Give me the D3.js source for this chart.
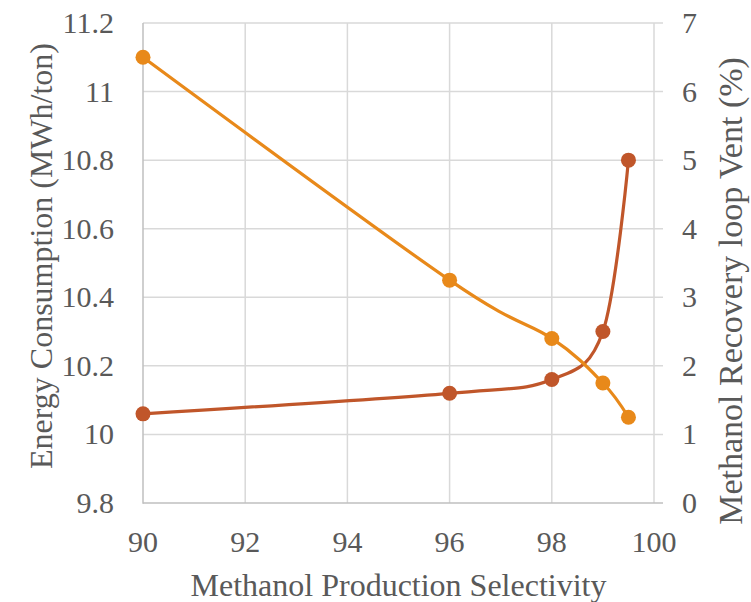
<!DOCTYPE html>
<html>
<head>
<meta charset="utf-8">
<script src="https://cdn.jsdelivr.net/npm/d3@7"></script>
<style>
  html, body { margin: 0; padding: 0; background: #fff; }
  svg { display: block; }
</style>
</head>
<body>
<svg id="chart" width="751" height="602" font-family="Liberation Serif"></svg>
<script>
// Methanol production selectivity (%)
const selectivity = [90, 96, 98, 99, 99.5];
// Energy consumption (MWh/ton), left axis
const energy = [11.1, 10.45, 10.28, 10.15, 10.05];
// Methanol recovery loop vent (%), right axis
const vent = [1.3, 1.6, 1.8, 2.5, 5.0];

const xTicks = [90, 92, 94, 96, 98, 100];
const leftTicks = [9.8, 10, 10.2, 10.4, 10.6, 10.8, 11, 11.2];
const rightTicks = [0, 1, 2, 3, 4, 5, 6, 7];

const TEXT_COLOR = "#595959";

const svg = d3.select("#chart");
const plot = { left: 143, right: 654, top: 23, bottom: 503 };

const x = d3.scaleLinear().domain([90, 100]).range([plot.left, plot.right]);
const yL = d3.scaleLinear().domain([9.8, 11.2]).range([plot.bottom, plot.top]);
const yR = d3.scaleLinear().domain([0, 7]).range([plot.bottom, plot.top]);

const gridColor = "#d9d9d9";
const axisColor = "#bfbfbf";

// Horizontal gridlines (extend past the right edge as secondary-axis ticks)
svg.append("g").selectAll("line").data(leftTicks.slice(1)).join("line")
  .attr("x1", plot.left).attr("x2", plot.right + 9)
  .attr("y1", d => yL(d)).attr("y2", d => yL(d))
  .attr("stroke", gridColor).attr("stroke-width", 1.5);

// Vertical gridlines
svg.append("g").selectAll("line").data(xTicks.slice(1)).join("line")
  .attr("x1", d => x(d)).attr("x2", d => x(d))
  .attr("y1", plot.top).attr("y2", plot.bottom)
  .attr("stroke", gridColor).attr("stroke-width", 1.5);

// Axis lines
svg.append("line")
  .attr("x1", plot.left).attr("x2", plot.left)
  .attr("y1", plot.top).attr("y2", plot.bottom + 0.75)
  .attr("stroke", axisColor).attr("stroke-width", 1.5);
svg.append("line")
  .attr("x1", plot.left).attr("x2", plot.right + 9)
  .attr("y1", plot.bottom).attr("y2", plot.bottom)
  .attr("stroke", axisColor).attr("stroke-width", 1.5);

// Axis titles
const titleFont = 32;
const labels = svg.append("g").attr("fill", TEXT_COLOR);

labels.append("text")
  .attr("x", (plot.left + plot.right) / 2).attr("y", 596)
  .attr("text-anchor", "middle").attr("font-size", titleFont)
  .text("Methanol Production Selectivity");

labels.append("text")
  .attr("transform", "translate(52,256) rotate(-90)")
  .attr("text-anchor", "middle").attr("font-size", titleFont)
  .text("Energy Consumption (MWh/ton)");

labels.append("text")
  .attr("transform", "translate(742,291) rotate(-90)")
  .attr("text-anchor", "middle").attr("font-size", 34)
  .text("Methanol Recovery loop Vent (%)");

// Tick labels
const tickFont = 30;
labels.append("g").selectAll("text").data(leftTicks).join("text")
  .attr("x", 114).attr("y", d => yL(d) + 10)
  .attr("text-anchor", "end").attr("font-size", tickFont)
  .text(d => String(+d.toFixed(1)));

labels.append("g").selectAll("text").data(rightTicks).join("text")
  .attr("x", 682).attr("y", d => yR(d) + 10)
  .attr("text-anchor", "start").attr("font-size", tickFont)
  .text(d => String(d));

labels.append("g").selectAll("text").data(xTicks).join("text")
  .attr("x", d => x(d)).attr("y", 552)
  .attr("text-anchor", "middle").attr("font-size", tickFont)
  .text(d => String(d));

// Series (vent drawn first so the energy line sits on top)
const curve = d3.curveCardinal.tension(0);
const ventPts = selectivity.map((s, i) => [x(s), yR(vent[i])]);
const energyPts = selectivity.map((s, i) => [x(s), yL(energy[i])]);

const series = [
  { pts: ventPts, color: "#C0562A" },
  { pts: energyPts, color: "#E8891A" }
];

series.forEach(s => {
  svg.append("path")
    .attr("d", d3.line().curve(curve)(s.pts))
    .attr("fill", "none").attr("stroke", s.color)
    .attr("stroke-width", 3.2).attr("stroke-linecap", "round");
  svg.append("g").selectAll("circle").data(s.pts).join("circle")
    .attr("cx", d => d[0]).attr("cy", d => d[1]).attr("r", 7.5)
    .attr("fill", s.color);
});
</script>
</body>
</html>
